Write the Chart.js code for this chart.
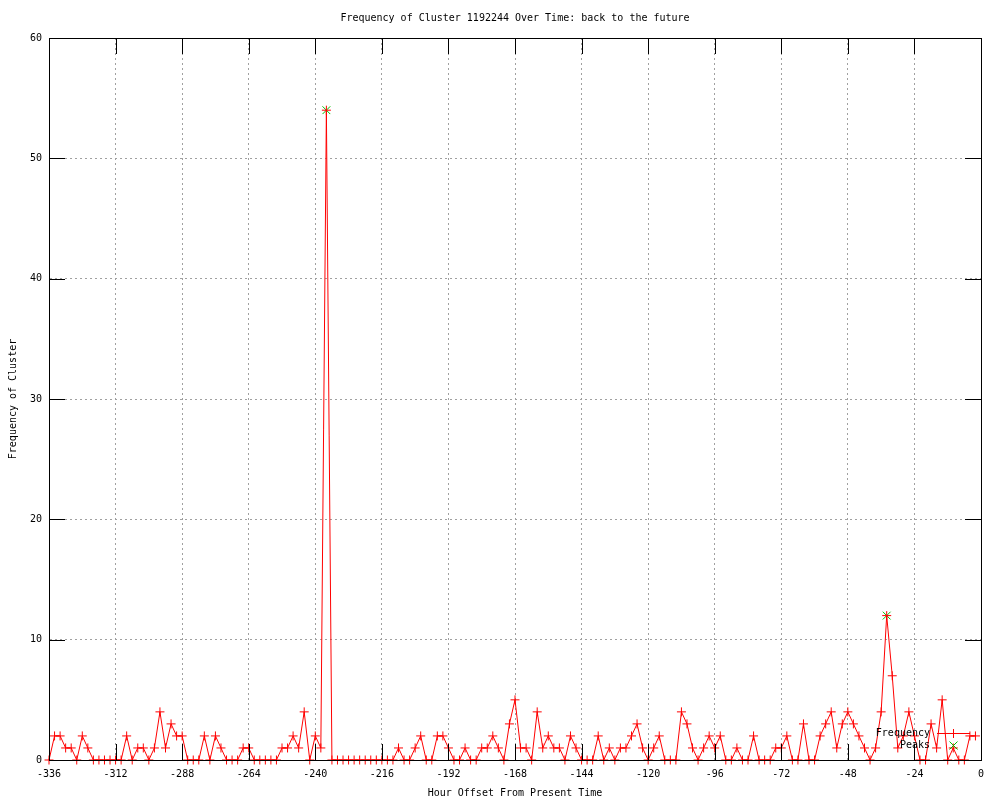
<!DOCTYPE html>
<html>
<head>
<meta charset="utf-8">
<script src="https://cdn.jsdelivr.net/npm/chart.js@4.4.1/dist/chart.umd.min.js"></script>
<style>
  html, body { margin: 0; padding: 0; background: #fff; }
  #wrap { width: 1000px; height: 800px; }
</style>
</head>
<body>
<div id="wrap"><canvas id="c" width="1000" height="800"></canvas></div>
<script>
// ---- data ----
const titleText = "Frequency of Cluster 1192244 Over Time: back to the future";
const xAxisTitle = "Hour Offset From Present Time";
const yAxisTitle = "Frequency of Cluster";
const seriesNames = ["Frequency", "Peaks"];

const hours = [
  -336,-334,-332,-330,-328,-326,-324,-322,-320,-318,-316,-314,-312,-310,-308,-306,-304,-302,-300,-298,
  -296,-294,-292,-290,-288,-286,-284,-282,-280,-278,-276,-274,-272,-270,-268,-266,-264,-262,-260,-258,
  -256,-254,-252,-250,-248,-246,-244,-242,-240,-238,-236,-234,-232,-230,-228,-226,-224,-222,-220,-218,
  -216,-214,-212,-210,-208,-206,-204,-202,-200,-198,-196,-194,-192,-190,-188,-186,-184,-182,-180,-178,
  -176,-174,-172,-170,-168,-166,-164,-162,-160,-158,-156,-154,-152,-150,-148,-146,-144,-142,-140,-138,
  -136,-134,-132,-130,-128,-126,-124,-122,-120,-118,-116,-114,-112,-110,-108,-106,-104,-102,-100,-98,
  -96,-94,-92,-90,-88,-86,-84,-82,-80,-78,-76,-74,-72,-70,-68,-66,-64,-62,-60,-58,
  -56,-54,-52,-50,-48,-46,-44,-42,-40,-38,-36,-34,-32,-30,-28,-26,-24,-22,-20,-18,
  -16,-14,-12,-10,-8,-6,-4,-2
];
const frequency = [
  0,2,2,1,1,0,2,1,0,0,0,0,0,0,2,0,1,1,0,1,
  4,1,3,2,2,0,0,0,2,0,2,1,0,0,0,1,1,0,0,0,
  0,0,1,1,2,1,4,0,2,1,54,0,0,0,0,0,0,0,0,0,
  0,0,0,1,0,0,1,2,0,0,2,2,1,0,0,1,0,0,1,1,
  2,1,0,3,5,1,1,0,4,1,2,1,1,0,2,1,0,0,0,2,
  0,1,0,1,1,2,3,1,0,1,2,0,0,0,4,3,1,0,1,2,
  1,2,0,0,1,0,0,2,0,0,0,1,1,2,0,0,3,0,0,2,
  3,4,1,3,4,3,2,1,0,1,4,12,7,1,2,4,2,0,0,3,
  1,5,0,1,0,0,2,2
];
const peakHours = [-236, -34];
const peakValues = [54, 12];

const xTicks = [-336,-312,-288,-264,-240,-216,-192,-168,-144,-120,-96,-72,-48,-24,0];
const yTicks = [0,10,20,30,40,50,60];

// ---- chart ----
const FONT = "'DejaVu Sans Mono', 'Liberation Mono', monospace";
const freqPoints = hours.map((h, i) => ({ x: h, y: frequency[i] }));
const peakPoints = peakHours.map((h, i) => ({ x: h, y: peakValues[i] }));

const overlay = {
  id: 'overlay',
  afterDatasetsDraw(chart) {
    const { ctx, chartArea: a, scales: { x, y } } = chart;
    const TL = 16;
    ctx.save();
    ctx.setLineDash([]);
    ctx.lineDashOffset = 0;
    ctx.strokeStyle = '#000';
    ctx.lineWidth = 1;
    ctx.beginPath();
    xTicks.forEach(v => {
      const px = Math.round(x.getPixelForValue(v)) + 0.5;
      ctx.moveTo(px, a.bottom); ctx.lineTo(px, a.bottom - TL);
      ctx.moveTo(px, a.top); ctx.lineTo(px, a.top + TL);
    });
    yTicks.forEach(v => {
      const py = Math.round(y.getPixelForValue(v)) + 0.5;
      ctx.moveTo(a.left, py); ctx.lineTo(a.left + TL, py);
      ctx.moveTo(a.right, py); ctx.lineTo(a.right - TL, py);
    });
    ctx.stroke();
    ctx.strokeRect(Math.round(a.left) + 0.5, Math.round(a.top) + 0.5,
                   Math.round(a.right - a.left), Math.round(a.bottom - a.top));

    // texts
    ctx.fillStyle = '#000';
    ctx.font = '10px ' + FONT;
    ctx.textBaseline = 'middle';
    ctx.textAlign = 'center';
    ctx.fillText(titleText, (a.left + a.right) / 2, 18);
    ctx.fillText(xAxisTitle, (a.left + a.right) / 2, 793);
    ctx.save();
    ctx.translate(13, (a.top + a.bottom) / 2);
    ctx.rotate(-Math.PI / 2);
    ctx.fillText(yAxisTitle, 0, 0);
    ctx.restore();

    // legend
    ctx.textAlign = 'right';
    ctx.fillText(seriesNames[0], 930, 733);
    ctx.fillText(seriesNames[1], 930, 745);
    ctx.strokeStyle = '#ff0000';
    ctx.beginPath();
    ctx.moveTo(937, 733.5); ctx.lineTo(970, 733.5);
    ctx.moveTo(953.5, 729); ctx.lineTo(953.5, 738);
    ctx.moveTo(949, 733.5); ctx.lineTo(958, 733.5);
    ctx.stroke();
    ctx.strokeStyle = '#00c000';
    ctx.beginPath();
    ctx.moveTo(949.5, 741.5); ctx.lineTo(957.5, 749.5);
    ctx.moveTo(957.5, 741.5); ctx.lineTo(949.5, 749.5);
    ctx.stroke();
    ctx.restore();
  }
};

new Chart(document.getElementById('c'), {
  type: 'line',
  data: {
    datasets: [
      {
        label: seriesNames[0],
        data: freqPoints,
        borderColor: '#ff0000',
        backgroundColor: '#ff0000',
        borderWidth: 1,
        tension: 0,
        pointStyle: 'cross',
        pointRadius: 4.5,
        pointBorderColor: '#ff0000',
        pointBorderWidth: 1,
        fill: false,
        clip: false
      },
      {
        label: seriesNames[1],
        data: peakPoints,
        showLine: false,
        borderColor: '#00c000',
        backgroundColor: '#00c000',
        pointStyle: 'crossRot',
        pointRadius: 5.5,
        pointBorderColor: '#00c000',
        pointBorderWidth: 1,
        clip: false
      }
    ]
  },
  options: {
    responsive: false,
    animation: false,
    devicePixelRatio: 1,
    layout: { padding: { left: 0, right: 19, top: 38, bottom: 0 } },
    plugins: { legend: { display: false }, title: { display: false }, tooltip: { enabled: false } },
    scales: {
      x: {
        type: 'linear',
        min: -336, max: 0,
        afterBuildTicks: s => { s.ticks = xTicks.map(v => ({ value: v })); },
        afterFit: s => { s.height = 40; },
        ticks: { color: '#000', font: { family: FONT, size: 10 }, padding: 8, maxRotation: 0, autoSkip: false },
        grid: { color: '#a0a0a0', lineWidth: 1, drawTicks: false },
        border: { display: true, color: '#000', dash: [2, 3] }
      },
      y: {
        type: 'linear',
        min: 0, max: 60,
        afterBuildTicks: s => { s.ticks = yTicks.map(v => ({ value: v })); },
        afterFit: s => { s.width = 49; },
        ticks: { color: '#000', font: { family: FONT, size: 10 }, padding: 7 },
        grid: { color: '#a0a0a0', lineWidth: 1, drawTicks: false },
        border: { display: true, color: '#000', dash: [2, 3] }
      }
    }
  },
  plugins: [overlay]
});
</script>
</body>
</html>
